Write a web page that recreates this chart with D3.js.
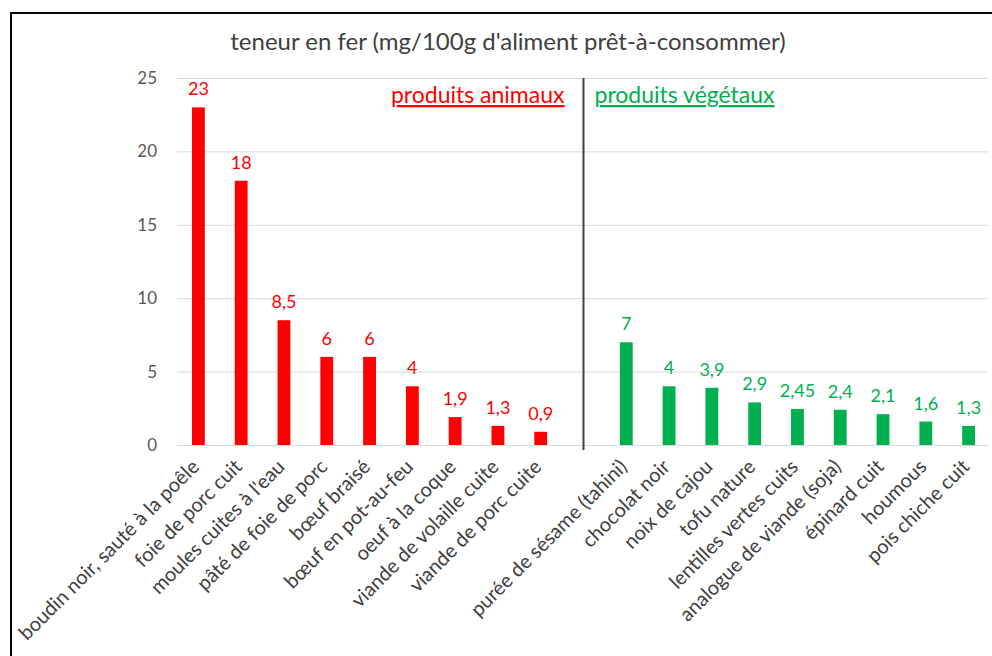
<!DOCTYPE html>
<html>
<head>
<meta charset="utf-8">
<script src="https://cdn.jsdelivr.net/npm/d3@7"></script>
<style>
  body { margin: 0; background: #fff; }
  svg { display: block; font-family: Lato, "Open Sans", sans-serif; }
</style>
</head>
<body>
<script>
const animalNames = ['boudin noir, sauté à la poêle', 'foie de porc cuit', "moules cuites à l'eau",
  'pâté de foie de porc', 'bœuf braisé', 'bœuf en pot-au-feu', 'oeuf à la coque',
  'viande de volaille cuite', 'viande de porc cuite']
const animalValues = [23, 18, 8.5, 6, 6, 4, 1.9, 1.3, 0.9]
const plantNames = ['purée de sésame (tahini)', 'chocolat noir', 'noix de cajou', 'tofu nature',
  'lentilles vertes cuits', 'analogue de viande (soja)', 'épinard cuit', 'houmous', 'pois chiche cuit']
const plantValues = [7, 4, 3.9, 2.9, 2.45, 2.4, 2.1, 1.6, 1.3]
const yTicks = [0, 5, 10, 15, 20, 25]

const width = 992
const height = 656
const red = '#ff0000'
const green = '#00b050'

// one empty slot between the two groups, where the divider sits
const rows = [
  ...animalNames.map((n, i) => ({ name: n, value: animalValues[i], color: red })),
  { name: '', value: null, color: null },
  ...plantNames.map((n, i) => ({ name: n, value: plantValues[i], color: green }))
]
rows.forEach((d, i) => d.key = 'c' + i)

const fr = d3.formatLocale({ decimal: ',', thousands: ' ', grouping: [3], currency: ['', ' €'] })
const fmt = v => fr.format(',')(v)

const svg = d3.select('body').append('svg')
  .attr('width', width)
  .attr('height', height)

// chart frame
svg.append('path')
  .attr('d', `M11,${height} V13 H${width}`)
  .attr('fill', 'none')
  .attr('stroke', '#000')
  .attr('stroke-width', 2)

const x = d3.scaleBand()
  .domain(rows.map(d => d.key))
  .range([177, 990])
  .paddingInner(0.7)
  .paddingOuter(0.35)

const y = d3.scaleLinear()
  .domain([0, 25])
  .range([445, 78])

// gridlines + y labels
const yAxis = d3.axisLeft(y).tickValues(yTicks).tickSize(-(988 - 177)).tickPadding(20)
svg.append('g')
  .attr('transform', 'translate(177,0)')
  .call(yAxis)
  .call(g => g.select('.domain').remove())
  .call(g => g.selectAll('.tick line').attr('stroke', '#d9d9d9'))
  .call(g => g.selectAll('.tick text').attr('fill', '#595959').attr('font-size', 17)
    .attr('font-family', 'Lato, sans-serif'))

svg.append('text')
  .attr('x', 508)
  .attr('y', 50)
  .attr('text-anchor', 'middle')
  .attr('font-size', 24)
  .attr('fill', '#404040')
  .text("teneur en fer (mg/100g d'aliment prêt-à-consommer)")

const bars = rows.filter(d => d.value != null)

svg.append('g')
  .selectAll('rect')
  .data(bars)
  .enter()
  .append('rect')
  .attr('x', d => x(d.key))
  .attr('y', d => y(d.value))
  .attr('width', x.bandwidth())
  .attr('height', d => y(0) - y(d.value))
  .attr('fill', d => d.color)

svg.append('g')
  .selectAll('text')
  .data(bars)
  .enter()
  .append('text')
  .attr('x', d => x(d.key) + x.bandwidth() / 2)
  .attr('y', d => y(d.value) - 12)
  .attr('text-anchor', 'middle')
  .attr('font-size', 18)
  .attr('fill', d => d.color)
  .text(d => fmt(d.value))

// divider between animal and plant products
const gap = rows.find(d => d.value == null)
const xd = x(gap.key) + x.bandwidth() / 2
svg.append('line')
  .attr('x1', xd).attr('x2', xd)
  .attr('y1', y(25)).attr('y2', y(0) + 5)
  .attr('stroke', '#404040')
  .attr('stroke-width', 2)

svg.append('text')
  .attr('x', xd - 19)
  .attr('y', 103)
  .attr('text-anchor', 'end')
  .attr('font-size', 23)
  .attr('fill', red)
  .attr('text-decoration', 'underline')
  .text('produits animaux')

svg.append('text')
  .attr('x', xd + 11)
  .attr('y', 103)
  .attr('font-size', 23)
  .attr('fill', green)
  .attr('text-decoration', 'underline')
  .text('produits végétaux')

// rotated category labels
svg.append('g')
  .selectAll('text')
  .data(bars)
  .enter()
  .append('text')
  .attr('transform', d => `translate(${x(d.key) + x.bandwidth() / 2 + 2},${468}) rotate(-45)`)
  .attr('text-anchor', 'end')
  .attr('font-size', 20)
  .attr('fill', '#404040')
  .text(d => d.name)
</script>
</body>
</html>
